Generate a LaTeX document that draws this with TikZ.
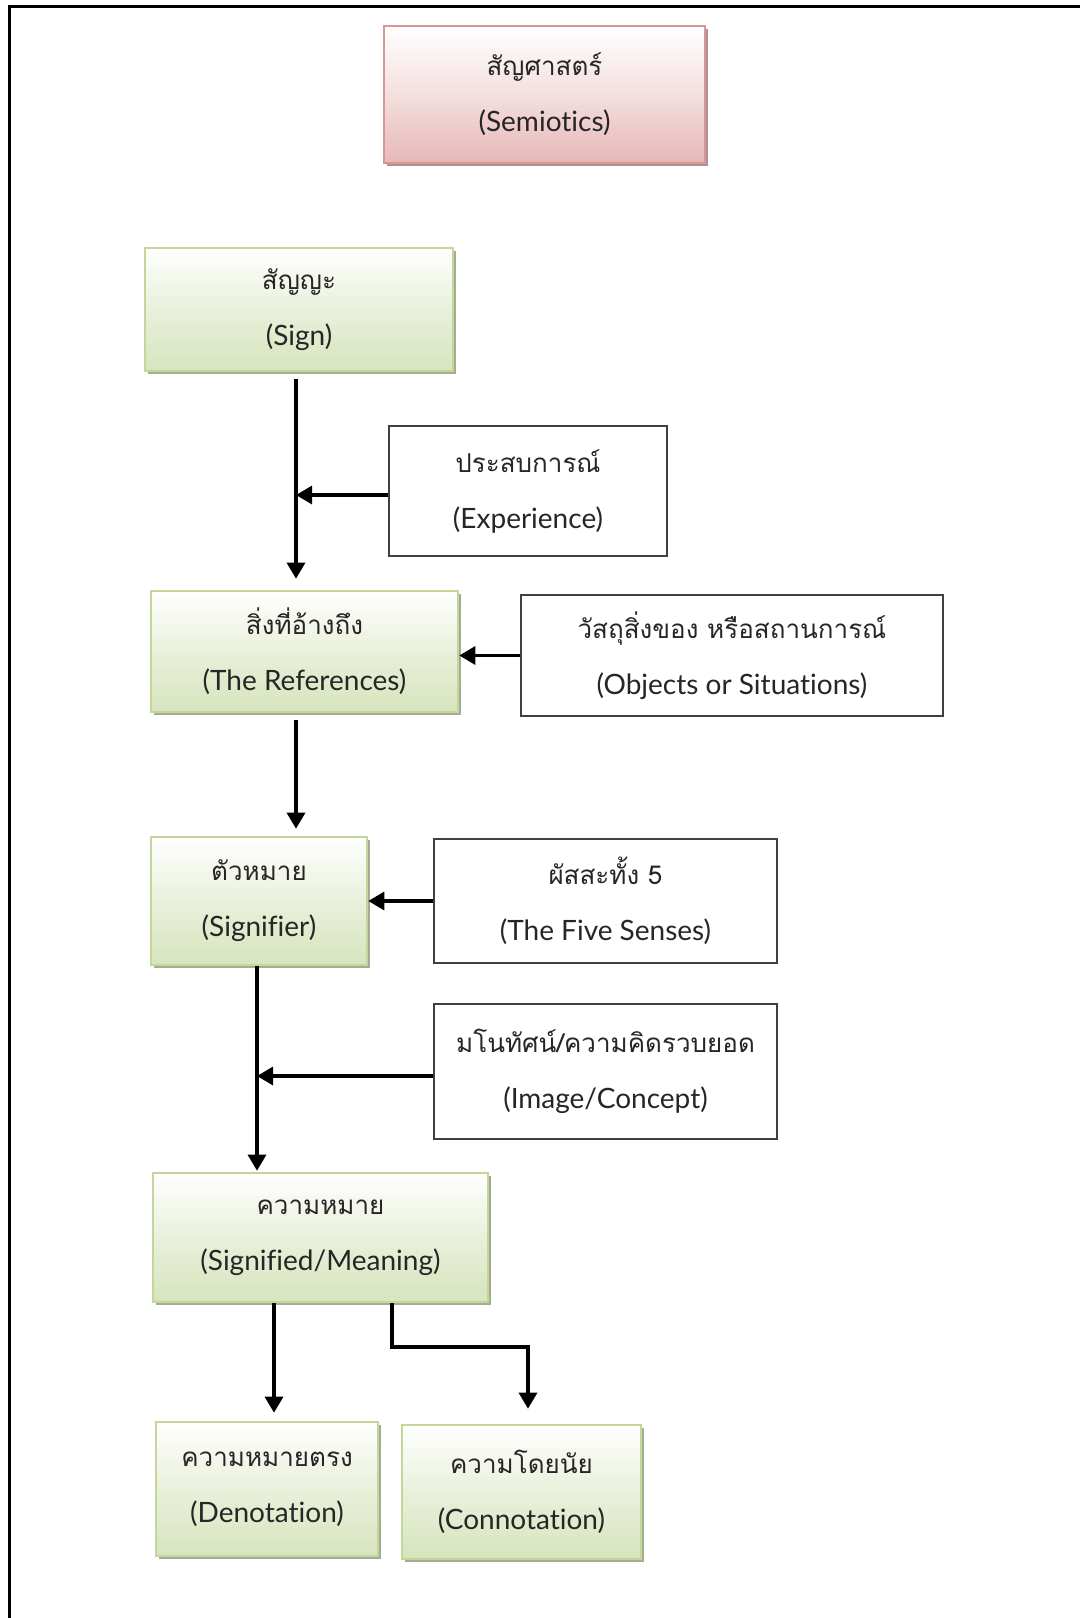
\documentclass[tikz,border=0pt]{standalone}
\usepackage{fontspec}
\setmainfont[Script=Thai]{Loma}
\newfontfamily\latinfont[Ligatures=NoCommon]{Lato}
\usetikzlibrary{arrows.meta}
\definecolor{pinkbot}{HTML}{E6B8B7}
\definecolor{pinkline}{HTML}{D99694}
\definecolor{pinkshadow}{HTML}{B09090}
\definecolor{greenbot}{HTML}{D7E4BD}
\definecolor{greenline}{HTML}{C3D69B}
\definecolor{greenshadow}{HTML}{A3AD90}
\definecolor{txt}{HTML}{262626}
\newcommand{\lat}[1]{{\latinfont\fontsize{14}{28}\selectfont #1}}
\tikzset{
  lbl/.style={align=center, font=\fontsize{13}{28}\selectfont, text=txt, inner sep=0pt},
  pinkbox/.style={lbl, draw=pinkline, line width=1.3pt, top color=white, bottom color=pinkbot, middle color=pinkbot!45,
    preaction={fill=pinkshadow, transform canvas={shift={(1.6pt,-1.6pt)}}}},
  greenbox/.style={lbl, draw=greenline, line width=1.3pt, top color=white, bottom color=greenbot, middle color=greenbot!55,
    preaction={fill=greenshadow, transform canvas={shift={(1.6pt,-1.6pt)}}}},
  whitebox/.style={lbl, draw=black!75, line width=0.6pt, fill=white},
  arr/.style={line width=1.6pt, -{Triangle[width=9pt,length=8pt]}},
}
\begin{document}
\begin{tikzpicture}[x=0.5pt, y=-0.5pt]
\useasboundingbox (0,0) rectangle (1080,1618);
\fill[white] (0,0) rectangle (1080,1618);
% frame
\draw[line width=1.5pt] (9,1620) -- (9,6) -- (1082,6);

% nodes
\node[pinkbox, minimum width=160.5pt, minimum height=68.5pt] (sem) at (544.5,94.5) {สัญศาสตร์\\\lat{(Semiotics)}};
\node[greenbox, minimum width=154pt, minimum height=61.5pt] (sign) at (299,309.5) {สัญญะ\\\lat{(Sign)}};
\node[whitebox, minimum width=139pt, minimum height=65pt] (exp) at (528,491) {ประสบการณ์\\\lat{(Experience)}};
\node[greenbox, minimum width=153.5pt, minimum height=60.5pt] (ref) at (304.5,651.5) {สิ่งที่อ้างถึง\\\lat{(The References)}};
\node[whitebox, minimum width=211pt, minimum height=60.5pt] (obj) at (732,655.5) {วัสถุสิ่งของ หรือสถานการณ์\\\lat{(Objects or Situations)}};
\node[greenbox, minimum width=108pt, minimum height=64pt] (sigr) at (259,901) {ตัวหมาย\\\lat{(Signifier)}};
\node[whitebox, minimum width=171.5pt, minimum height=62pt] (five) at (605.5,901) {ผัสสะทั้ง 5\\\lat{(The Five Senses)}};
\node[whitebox, minimum width=171.5pt, minimum height=67.5pt] (img) at (605.5,1071.5) {มโนทัศน์/ความคิดรวบยอด\\\lat{(Image/Concept)}};
\node[greenbox, minimum width=167.5pt, minimum height=64.5pt] (mean) at (320.5,1237.5) {ความหมาย\\\lat{(Signified/Meaning)}};
\node[greenbox, minimum width=111pt, minimum height=67pt] (den) at (267,1489) {ความหมายตรง\\\lat{(Denotation)}};
\node[greenbox, minimum width=119.5pt, minimum height=67pt] (con) at (521.5,1492) {ความโดยนัย\\\lat{(Connotation)}};

% connectors
\coordinate (v1) at (296,495);
\draw[arr] ([shift={(-3,7)}]sign.south) -- ([shift={(-8.5,-11)}]ref.north);
\draw[arr] (exp.west |- v1) -- (v1);
\draw[arr] (obj.west) -- (obj.west -| ref.east);
\draw[arr] ([shift={(-8.5,7)}]ref.south) -- ([shift={(37,-7)}]sigr.north);
\draw[arr] (five.west) -- (five.west -| sigr.east);
\coordinate (v2) at (257,1076);
\draw[arr] ([shift={(-2,0)}]sigr.south) -- ([shift={(-63.5,-1)}]mean.north);
\draw[arr] (img.west |- v2) -- (v2);
\draw[arr] ([shift={(-46.5,0)}]mean.south) -- ([shift={(7,-8)}]den.north);
\coordinate (k1) at (392,1347);
\coordinate (k2) at (528,1347);
\draw[arr] ([shift={(71.5,0)}]mean.south) -- (k1) -- (k2) -- ([shift={(6.5,-15)}]con.north);
\end{tikzpicture}
\end{document}
